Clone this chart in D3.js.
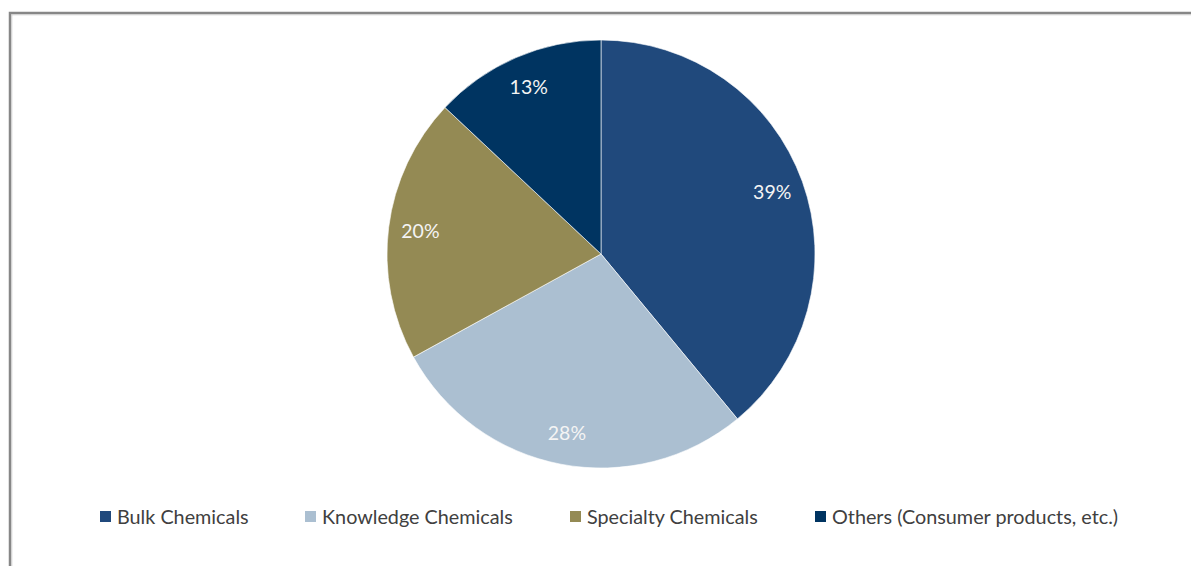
<!DOCTYPE html>
<html>
<head>
<meta charset="utf-8">
<script src="https://cdn.jsdelivr.net/npm/d3@7/dist/d3.min.js"></script>
<style>
  html, body { margin: 0; padding: 0; background: #fff; }
  svg { display: block; }
</style>
</head>
<body>
<svg id="chart" width="1191" height="566"></svg>
<script>
// Segment shares (percent), drawn clockwise from 12 o'clock
const categories = ["Bulk Chemicals", "Knowledge Chemicals", "Specialty Chemicals", "Others (Consumer products, etc.)"];
const shares = [39, 28, 20, 13];
const colors = ["#20497c", "#abbfd1", "#948a54", "#003461"];
const legendX = [100, 305, 570, 815];

const svg = d3.select("#chart");
const W = 1191, H = 566;
const font = "Lato, 'Open Sans', sans-serif";

// chart-area frame
svg.append("path")
  .attr("d", `M10,${H + 5} V13 H${W + 5}`)
  .attr("fill", "none").attr("stroke", "#878787").attr("stroke-width", 2.5);
svg.append("path")
  .attr("d", `M11.8,${H + 5} V14.8 H${W + 5}`)
  .attr("fill", "none").attr("stroke", "#c8c8c8").attr("stroke-width", 0.8);

const cx = 601, cy = 254, R = 214;
const data = categories.map((c, i) => ({ name: c, value: shares[i], color: colors[i] }));

const pie = d3.pie().value(d => d.value).sort(null).startAngle(0).endAngle(2 * Math.PI);
const arcs = pie(data);
const arc = d3.arc().innerRadius(0).outerRadius(R);
const labelArc = d3.arc().innerRadius(182).outerRadius(182);

const g = svg.append("g").attr("transform", `translate(${cx},${cy})`);
g.selectAll("path.slice").data(arcs).join("path")
  .attr("class", "slice")
  .attr("d", arc)
  .attr("fill", d => d.data.color)
  .attr("stroke", "#ffffff").attr("stroke-width", 0.6);

g.selectAll("text.pct").data(arcs).join("text")
  .attr("class", "pct")
  .attr("transform", d => `translate(${labelArc.centroid(d)})`)
  .attr("text-anchor", "middle")
  .attr("dy", "0.36em")
  .attr("font-family", font)
  .attr("font-size", 19.5)
  .attr("fill", "#f4f4f4")
  .text(d => d.data.value + "%");

// legend
const lg = svg.append("g");
data.forEach((d, i) => {
  lg.append("rect")
    .attr("x", legendX[i]).attr("y", 511)
    .attr("width", 11).attr("height", 11)
    .attr("fill", d.color);
  lg.append("text")
    .attr("x", legendX[i] + 17).attr("y", 524)
    .attr("font-family", font).attr("font-size", 19.8)
    .attr("fill", "#404040")
    .text(d.name);
});
</script>
</body>
</html>
